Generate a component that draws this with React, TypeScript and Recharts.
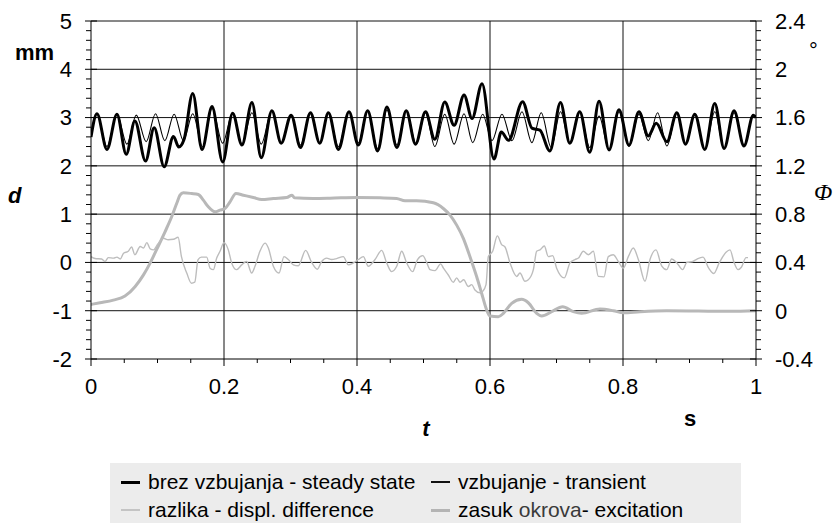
import React from 'react';
import { ComposedChart, Line, XAxis, YAxis, ReferenceLine } from 'recharts';

const FONT = '"Liberation Sans", Arial, Helvetica, sans-serif';
const SERIF = '"Liberation Serif", "Times New Roman", serif';

// ---- axes ----
const X_MAJOR = [0, 0.2, 0.4, 0.6, 0.8, 1];
const X_LABELS = ['0', '0.2', '0.4', '0.6', '0.8', '1'];
const D_MAJOR = [-2, -1, 0, 1, 2, 3, 4, 5];
const D_LABELS = ['-2', '-1', '0', '1', '2', '3', '4', '5'];
const PHI_MAJOR = [-0.4, 0, 0.4, 0.8, 1.2, 1.6, 2, 2.4];
const PHI_LABELS = ['-0.4', '0', '0.4', '0.8', '1.2', '1.6', '2', '2.4'];
const X_GRID = [0.2, 0.4, 0.6, 0.8];
const D_GRID = [-1, 0, 1, 2, 3, 4, 5];

const minorTicks = (start: number, step: number, n: number) => {
  const out: number[] = [];
  for (let i = 0; i <= n; i++) out.push(Math.round((start + i * step) * 1000) / 1000);
  return out;
};
const X_TICKS = minorTicks(0, 0.05, 20);
const D_TICKS = minorTicks(-2, 0.2, 35);
const PHI_TICKS = minorTicks(-0.4, 0.08, 35);

// ---- series (t [s], value) ----
// brez vzbujanja - steady state (thick black), d [mm]
const steady: [number, number][] = [
  [0, 2.6], [0.009, 3.08], [0.024, 2.34], [0.039, 3.07], [0.053, 2.24], [0.066, 2.93], [0.082, 2.10],
  [0.095, 2.79], [0.110, 1.98], [0.124, 2.61], [0.132, 2.39], [0.140, 2.55], [0.153, 3.50], [0.167, 2.34],
  [0.182, 3.23], [0.198, 2.08], [0.213, 3.09], [0.227, 2.43], [0.242, 3.31], [0.256, 2.17], [0.272, 3.14],
  [0.286, 2.47], [0.301, 3.05], [0.315, 2.38], [0.330, 3.10], [0.344, 2.47], [0.357, 3.10], [0.372, 2.34],
  [0.388, 3.12], [0.402, 2.43], [0.416, 3.14], [0.431, 2.31], [0.445, 3.22], [0.460, 2.38], [0.474, 3.14],
  [0.488, 2.45], [0.503, 3.12], [0.517, 2.55], [0.532, 3.32], [0.546, 2.84], [0.561, 3.47], [0.573, 2.98],
  [0.588, 3.70], [0.606, 2.14], [0.617, 2.70], [0.628, 2.53], [0.649, 3.33], [0.663, 2.78], [0.675, 2.74],
  [0.690, 2.31], [0.706, 3.31], [0.720, 2.47], [0.735, 3.12], [0.750, 2.28], [0.764, 3.34], [0.779, 2.33],
  [0.794, 3.16], [0.809, 2.43], [0.824, 3.12], [0.838, 2.62], [0.850, 2.88], [0.866, 2.50], [0.881, 3.10],
  [0.894, 2.45], [0.908, 3.07], [0.923, 2.34], [0.938, 3.29], [0.952, 2.36], [0.967, 3.14], [0.982, 2.41],
  [0.996, 3.05], [1.0, 3.0],
];

// vzbujanje - transient (thin black), d [mm]
const transient: [number, number][] = [
  [0, 2.6], [0.009, 3.08], [0.024, 2.40], [0.039, 3.07], [0.054, 2.45], [0.068, 3.05], [0.083, 2.50],
  [0.097, 3.08], [0.111, 2.52], [0.125, 3.07], [0.139, 2.52], [0.153, 3.08], [0.168, 2.39], [0.182, 3.19],
  [0.198, 2.47], [0.213, 3.10], [0.227, 2.45], [0.242, 3.10], [0.256, 2.45], [0.272, 3.14], [0.286, 2.47],
  [0.301, 3.05], [0.315, 2.43], [0.330, 3.10], [0.344, 2.47], [0.357, 3.10], [0.372, 2.40], [0.388, 3.12],
  [0.402, 2.48], [0.416, 3.14], [0.431, 2.36], [0.445, 3.16], [0.460, 2.43], [0.474, 3.14], [0.489, 2.45],
  [0.503, 3.10], [0.517, 2.40], [0.532, 3.07], [0.546, 2.45], [0.561, 3.08], [0.574, 2.48], [0.589, 3.07],
  [0.603, 2.52], [0.618, 3.07], [0.633, 2.52], [0.648, 3.12], [0.663, 2.48], [0.677, 3.10], [0.692, 2.38],
  [0.706, 3.12], [0.720, 2.48], [0.735, 3.12], [0.750, 2.38], [0.764, 3.03], [0.779, 2.34], [0.794, 3.12],
  [0.809, 2.40], [0.824, 3.07], [0.838, 2.52], [0.852, 3.10], [0.866, 2.41], [0.881, 3.10], [0.894, 2.45],
  [0.908, 3.07], [0.923, 2.34], [0.938, 3.12], [0.952, 2.36], [0.967, 3.10], [0.982, 2.43], [0.996, 3.05],
  [1.0, 3.0],
];

// razlika - displ. difference (thin grey), d [mm]
const difference: [number, number][] = [
  [0, 0.12], [0.006, 0.08], [0.016, 0.07], [0.021, 0.02], [0.026, 0.10], [0.034, 0.09], [0.039, 0.11],
  [0.044, 0.07], [0.049, 0.19], [0.056, 0.23], [0.061, 0.32], [0.066, 0.16], [0.074, 0.33], [0.079, 0.30],
  [0.084, 0.41], [0.089, 0.28], [0.094, 0.26], [0.100, 0.37], [0.109, 0.50], [0.116, 0.47], [0.124, 0.48],
  [0.131, 0.52], [0.136, 0.12], [0.144, -0.22], [0.151, -0.43], [0.156, -0.41], [0.161, 0.06], [0.166, 0.11],
  [0.174, 0.11], [0.179, -0.12], [0.184, -0.15], [0.189, 0.09], [0.194, 0.23], [0.200, 0.41], [0.2065, 0.26],
  [0.2115, -0.01], [0.219, -0.15], [0.2266, -0.05], [0.234, 0.02], [0.2416, -0.22], [0.2466, -0.08],
  [0.254, 0.23], [0.2617, 0.40], [0.2667, 0.30], [0.2742, -0.08], [0.2827, -0.22], [0.2902, 0.12],
  [0.2967, 0.06], [0.3043, -0.05], [0.3118, -0.07], [0.3228, 0.25], [0.3318, 0.0], [0.3404, -0.14],
  [0.3469, 0.02], [0.3544, 0.09], [0.3619, 0.06], [0.3694, 0.08], [0.3794, 0.12], [0.387, -0.05],
  [0.3945, -0.01], [0.402, 0.06], [0.4095, 0.12], [0.417, -0.08], [0.4271, 0.06], [0.4371, 0.25],
  [0.4446, -0.01], [0.4521, -0.19], [0.4597, -0.08], [0.4672, 0.23], [0.4747, -0.01], [0.4837, -0.19],
  [0.491, 0.06], [0.4988, 0.14], [0.505, -0.01], [0.5098, -0.15], [0.5173, -0.17], [0.5258, -0.03],
  [0.530, -0.12], [0.5373, -0.26], [0.5449, -0.41], [0.5499, -0.32], [0.5549, -0.41], [0.5605, -0.36],
  [0.5674, -0.50], [0.5724, -0.46], [0.5774, -0.57], [0.585, -0.63], [0.589, -0.60], [0.594, -0.46],
  [0.5975, 0.12], [0.604, 0.23], [0.611, 0.55], [0.6175, 0.37], [0.6226, 0.32], [0.6301, -0.01],
  [0.6401, -0.29], [0.6451, -0.22], [0.6526, -0.39], [0.6576, -0.36], [0.6652, -0.15], [0.6702, 0.23],
  [0.6752, 0.26], [0.6817, 0.34], [0.6877, 0.12], [0.6942, 0.14], [0.7002, -0.12], [0.7118, -0.32],
  [0.7203, -0.01], [0.7278, 0.06], [0.733, 0.09], [0.7403, 0.23], [0.7479, 0.16], [0.7554, 0.23],
  [0.7629, -0.29], [0.7714, -0.30], [0.7779, 0.12], [0.7854, 0.16], [0.793, 0.02], [0.8005, -0.12],
  [0.808, 0.12], [0.8155, 0.30], [0.8231, 0.06], [0.8331, -0.39], [0.8406, 0.06], [0.8496, 0.26],
  [0.8581, -0.07], [0.8657, -0.15], [0.8732, 0.07], [0.881, -0.01], [0.8897, -0.15], [0.896, 0.0],
  [0.905, 0.02], [0.9113, 0.07], [0.9203, 0.11], [0.9289, -0.12], [0.9364, -0.23], [0.945, 0.0],
  [0.9549, 0.21], [0.9609, 0.26], [0.967, 0.0], [0.973, -0.15], [0.978, -0.10], [0.985, 0.10], [0.988, 0.10],
];

// zasuk okrova - excitation (grey), Phi [deg]
const excitation: [number, number][] = [
  [0, 0.052], [0.0135, 0.066], [0.0336, 0.088], [0.0511, 0.121], [0.0662, 0.199], [0.0787, 0.295],
  [0.0887, 0.392], [0.0988, 0.508], [0.1113, 0.654], [0.1213, 0.778], [0.1288, 0.888], [0.1338, 0.957],
  [0.1388, 0.977], [0.1514, 0.971], [0.1614, 0.963], [0.1689, 0.916], [0.1764, 0.861], [0.1865, 0.819],
  [0.194, 0.833], [0.2015, 0.847], [0.209, 0.902], [0.218, 0.971], [0.2291, 0.957], [0.2441, 0.938],
  [0.2567, 0.921], [0.2742, 0.93], [0.2942, 0.938], [0.3023, 0.957], [0.306, 0.935], [0.3343, 0.93],
  [0.3594, 0.932], [0.3995, 0.938], [0.4346, 0.935], [0.4597, 0.93], [0.4722, 0.91], [0.4897, 0.91],
  [0.5148, 0.894], [0.5298, 0.847], [0.5399, 0.792], [0.5499, 0.709], [0.5599, 0.599], [0.5699, 0.447],
  [0.58, 0.281], [0.5875, 0.143], [0.595, 0.006], [0.6, -0.044], [0.6125, -0.05], [0.6201, -0.022],
  [0.6326, 0.061], [0.6476, 0.094], [0.6576, 0.066], [0.6702, -0.022], [0.6777, -0.044], [0.6927, -0.008],
  [0.7093, 0.033], [0.7253, -0.008], [0.7378, -0.022], [0.7654, 0.014], [0.7855, 0], [0.8005, -0.017],
  [0.8256, -0.008], [0.8657, 0], [0.9609, -0.005], [0.999, 0],
];

const SERIES_NAMES = [
  'brez vzbujanja - steady state',
  'vzbujanje - transient',
  'razlika - displ. difference',
  'zasuk',
];

const toRows = (arr: [number, number][]) => arr.map(([t, v]) => ({ t, v }));

const near = (list: number[], v: number) => list.findIndex((m) => Math.abs(m - v) < 1e-6);

const XTick = (props: any) => {
  const { x, y, payload } = props;
  const idx = near(X_MAJOR, payload.value);
  const major = idx >= 0;
  return (
    <g>
      <line x1={x} x2={x} y1={y} y2={y + (major ? 7 : 4)} stroke="#000" strokeWidth={1} />
      {major && (
        <text x={x} y={y + 27} dy="0.36em" textAnchor="middle" fontSize={22} fontFamily={FONT} fill="#000">
          {X_LABELS[idx]}
        </text>
      )}
    </g>
  );
};

const LeftTick = (props: any) => {
  const { x, y, payload } = props;
  const idx = near(D_MAJOR, payload.value);
  const major = idx >= 0;
  return (
    <g>
      <line x1={major ? x - 6 : x - 5} x2={major ? x + 6 : x} y1={y} y2={y} stroke="#000" strokeWidth={1} />
      {major && (
        <text x={x - 19} y={y} dy="0.36em" textAnchor="end" fontSize={22} fontFamily={FONT} fill="#000">
          {D_LABELS[idx]}
        </text>
      )}
    </g>
  );
};

const RightTick = (props: any) => {
  const { x, y, payload } = props;
  const idx = near(PHI_MAJOR, payload.value);
  const major = idx >= 0;
  return (
    <g>
      <line x1={major ? x - 6 : x} x2={major ? x + 6 : x + 5} y1={y} y2={y} stroke="#000" strokeWidth={1} />
      {major && (
        <text x={x + 19} y={y} dy="0.36em" textAnchor="start" fontSize={22} fontFamily={FONT} fill="#000">
          {PHI_LABELS[idx]}
        </text>
      )}
    </g>
  );
};

const LegendSwatch = ({ color, width }: { color: string; width: number }) => (
  <span
    style={{
      position: 'absolute',
      left: 0,
      top: '50%',
      width: 19,
      height: width,
      marginTop: -width / 2,
      background: color,
    }}
  />
);

const legendItems = [
  { left: 11, top: 19, color: '#000', w: 3, label: <>{SERIES_NAMES[0]}</> },
  { left: 321, top: 19, color: '#111', w: 1.3, label: <>{SERIES_NAMES[1]}</> },
  { left: 11, top: 47, color: '#c4c4c4', w: 1.5, label: <>{SERIES_NAMES[2]}</> },
  {
    left: 321,
    top: 47,
    color: '#b4b4b4',
    w: 3,
    label: (
      <>
        {SERIES_NAMES[3]} <span style={{ color: '#3a3a3a' }}>okrova</span>- excitation
      </>
    ),
  },
];

export default function App() {
  return (
    <div
      style={{
        position: 'absolute',
        left: 0,
        top: 0,
        width: 835,
        height: 523,
        background: '#fff',
        overflow: 'hidden',
      }}
    >
      <ComposedChart width={835} height={523} margin={{ top: 21, right: 0, bottom: 124, left: 0 }}>
        <XAxis
          type="number"
          dataKey="t"
          domain={[0, 1]}
          ticks={X_TICKS}
          interval={0}
          tickSize={0}
          tickMargin={0}
          tickLine={false}
          tick={<XTick />}
          axisLine={{ stroke: '#000', strokeWidth: 1 }}
          height={40}
          allowDataOverflow
        />
        <YAxis
          yAxisId="d"
          orientation="left"
          type="number"
          domain={[-2, 5]}
          ticks={D_TICKS}
          interval={0}
          tickSize={0}
          tickMargin={0}
          tickLine={false}
          tick={<LeftTick />}
          axisLine={{ stroke: '#000', strokeWidth: 1 }}
          width={91}
          allowDataOverflow
        />
        <YAxis
          yAxisId="phi"
          orientation="right"
          type="number"
          domain={[-0.4, 2.4]}
          ticks={PHI_TICKS}
          interval={0}
          tickSize={0}
          tickMargin={0}
          tickLine={false}
          tick={<RightTick />}
          axisLine={{ stroke: '#000', strokeWidth: 1 }}
          width={79}
          allowDataOverflow
        />
        {D_GRID.map((v) => (
          <ReferenceLine key={'h' + v} yAxisId="d" y={v} stroke="#111" strokeWidth={1} />
        ))}
        {X_GRID.map((v) => (
          <ReferenceLine key={'v' + v} yAxisId="d" x={v} stroke="#111" strokeWidth={1} />
        ))}
        <Line
          yAxisId="phi"
          data={toRows(excitation)}
          dataKey="v"
          type="monotone"
          stroke="#b8b8b8"
          strokeWidth={3}
          dot={false}
          isAnimationActive={false}
        />
        <Line
          yAxisId="d"
          data={toRows(difference)}
          dataKey="v"
          type="monotone"
          stroke="#bdbdbd"
          strokeWidth={1.4}
          dot={false}
          isAnimationActive={false}
        />
        <Line
          yAxisId="d"
          data={toRows(steady)}
          dataKey="v"
          type="monotone"
          stroke="#000"
          strokeWidth={3}
          dot={false}
          isAnimationActive={false}
        />
        <Line
          yAxisId="d"
          data={toRows(transient)}
          dataKey="v"
          type="monotone"
          stroke="#000"
          strokeWidth={1.1}
          dot={false}
          isAnimationActive={false}
        />
      </ComposedChart>

      <svg
        width={835}
        height={523}
        style={{ position: 'absolute', left: 0, top: 0, pointerEvents: 'none' }}
      >
        <text x={15} y={52} dy="0.36em" fontSize={22} fontWeight="bold" fontFamily={FONT} fill="#000">
          mm
        </text>
        <text x={8} y={195} dy="0.36em" fontSize={22} fontWeight="bold" fontStyle="italic" fontFamily={FONT} fill="#000">
          d
        </text>
        <text x={809} y={58} fontSize={22} fontFamily={FONT} fill="#000">
          °
        </text>
        <text x={814} y={191} dy="0.36em" fontSize={24} fontStyle="italic" fontFamily={SERIF} fill="#000">
          Φ
        </text>
        <text x={426} y={428} dy="0.36em" textAnchor="middle" fontSize={22} fontWeight="bold" fontStyle="italic" fontFamily={FONT} fill="#000">
          t
        </text>
        <text x={690} y={418} dy="0.36em" textAnchor="middle" fontSize={22} fontWeight="bold" fontFamily={FONT} fill="#000">
          s
        </text>
      </svg>

      <div
        style={{
          position: 'absolute',
          left: 110,
          top: 463,
          width: 631,
          height: 60,
          background: '#ececec',
          fontFamily: FONT,
          fontSize: 21,
          color: '#000',
        }}
      >
        {legendItems.map((it, i) => (
          <div
            key={i}
            style={{
              position: 'absolute',
              left: it.left,
              top: it.top - 13,
              height: 26,
              lineHeight: '26px',
              paddingLeft: 27,
              whiteSpace: 'nowrap',
            }}
          >
            <LegendSwatch color={it.color} width={it.w} />
            {it.label}
          </div>
        ))}
      </div>
    </div>
  );
}
